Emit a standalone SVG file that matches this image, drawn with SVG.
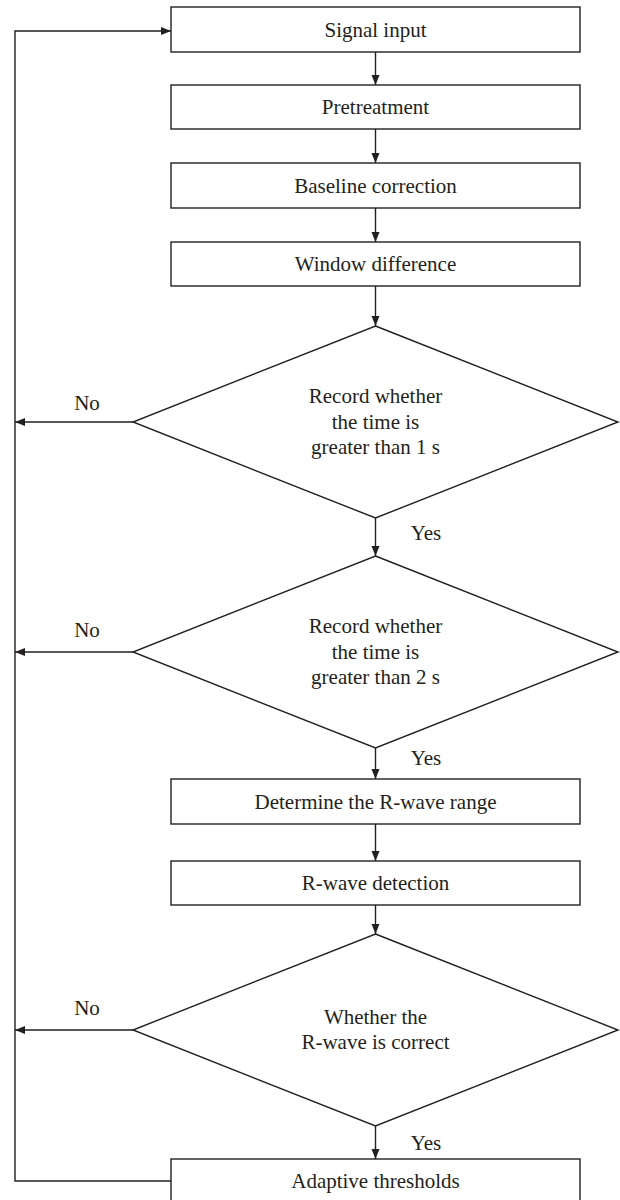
<svg xmlns="http://www.w3.org/2000/svg" width="620" height="1200" viewBox="0 0 620 1200">
<style>
.box{fill:#fff;stroke:#231f20;stroke-width:1.4}
.dia{fill:#fff;stroke:#231f20;stroke-width:1.4}
.lbl{font-family:"Liberation Serif","Times New Roman",serif;font-size:21px;fill:#231f20;text-anchor:middle}
.lnk{fill:none;stroke:#231f20;stroke-width:1.4}
</style>
<defs>
<marker id="ah" markerWidth="12" markerHeight="10" refX="10" refY="5" orient="auto" markerUnits="userSpaceOnUse">
<path d="M0,1 L10,5 L0,9 Z" fill="#231f20"/>
</marker>
</defs>
<rect width="620" height="1200" fill="#fff"/>
<g id="connectors">
<path class="lnk" d="M375.5,52 V85" marker-end="url(#ah)"/>
<path class="lnk" d="M375.5,129 V163" marker-end="url(#ah)"/>
<path class="lnk" d="M375.5,208 V242" marker-end="url(#ah)"/>
<path class="lnk" d="M375.5,286 V326" marker-end="url(#ah)"/>
<path class="lnk" d="M375.5,518 V556" marker-end="url(#ah)"/>
<path class="lnk" d="M375.5,748 V779" marker-end="url(#ah)"/>
<path class="lnk" d="M375.5,824 V861" marker-end="url(#ah)"/>
<path class="lnk" d="M375.5,905 V934" marker-end="url(#ah)"/>
<path class="lnk" d="M375.5,1126 V1159" marker-end="url(#ah)"/>
<path class="lnk" d="M133,422 H15" marker-end="url(#ah)"/>
<path class="lnk" d="M133,652 H15" marker-end="url(#ah)"/>
<path class="lnk" d="M133,1030 H15" marker-end="url(#ah)"/>
<path class="lnk" d="M171,1181 H15 V31 H171" marker-end="url(#ah)"/>
<text class="lbl" x="87" y="410">No</text>
<text class="lbl" x="87" y="637">No</text>
<text class="lbl" x="87" y="1015">No</text>
<text class="lbl" x="426" y="540">Yes</text>
<text class="lbl" x="426" y="765">Yes</text>
<text class="lbl" x="426" y="1150">Yes</text>
</g>
<g id="n1"><rect class="box" x="171" y="7" width="409" height="45"/><text class="lbl" x="375.5" y="36.5">Signal input</text></g>
<g id="n2"><rect class="box" x="171" y="85" width="409" height="44"/><text class="lbl" x="375.5" y="114">Pretreatment</text></g>
<g id="n3"><rect class="box" x="171" y="163" width="409" height="45"/><text class="lbl" x="375.5" y="192.5">Baseline correction</text></g>
<g id="n4"><rect class="box" x="171" y="242" width="409" height="44"/><text class="lbl" x="375.5" y="271">Window difference</text></g>
<g id="d1"><polygon class="dia" points="375.5,326 618,422 375.5,518 133,422"/>
<text class="lbl" x="375.5" y="403">Record whether</text><text class="lbl" x="375.5" y="429">the time is</text><text class="lbl" x="375.5" y="454">greater than 1 s</text></g>
<g id="d2"><polygon class="dia" points="375.5,556 618,652 375.5,748 133,652"/>
<text class="lbl" x="375.5" y="633">Record whether</text><text class="lbl" x="375.5" y="659">the time is</text><text class="lbl" x="375.5" y="684">greater than 2 s</text></g>
<g id="n5"><rect class="box" x="171" y="779" width="409" height="45"/><text class="lbl" x="375.5" y="808.5">Determine the R-wave range</text></g>
<g id="n6"><rect class="box" x="171" y="861" width="409" height="44"/><text class="lbl" x="375.5" y="890">R-wave detection</text></g>
<g id="d3"><polygon class="dia" points="375.5,934 618,1030 375.5,1126 133,1030"/>
<text class="lbl" x="375.5" y="1024">Whether the</text><text class="lbl" x="375.5" y="1049">R-wave is correct</text></g>
<g id="n7"><rect class="box" x="171" y="1159" width="409" height="42"/><text class="lbl" x="375.5" y="1188">Adaptive thresholds</text></g>
</svg>
